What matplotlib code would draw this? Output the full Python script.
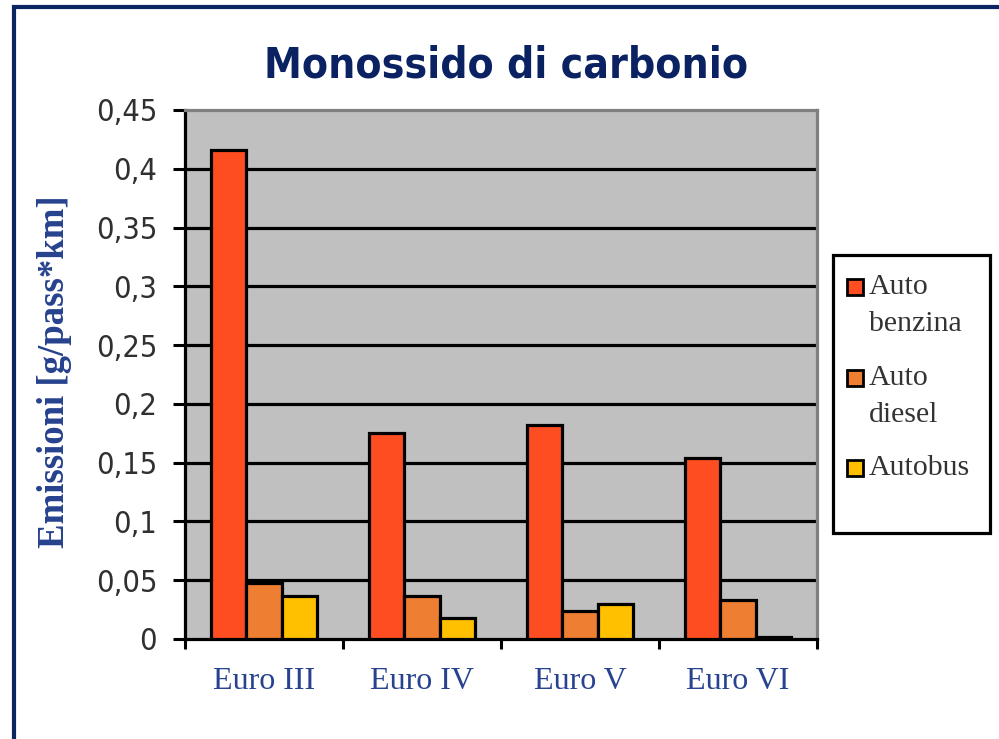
import matplotlib
matplotlib.use("Agg")
import matplotlib.pyplot as plt
from matplotlib.patches import Rectangle
import numpy as np

categories = ["Euro III", "Euro IV", "Euro V", "Euro VI"]
series_labels = ["Auto\nbenzina", "Auto\ndiesel", "Autobus"]
auto_benzina = [0.416, 0.175, 0.182, 0.154]
auto_diesel = [0.048, 0.037, 0.024, 0.033]
autobus = [0.037, 0.018, 0.030, 0.002]
yticks = [0, 0.05, 0.1, 0.15, 0.2, 0.25, 0.3, 0.35, 0.4, 0.45]
ytick_labels = ["0", "0,05", "0,1", "0,15", "0,2", "0,25", "0,3", "0,35", "0,4", "0,45"]
title = "Monossido di carbonio"
ylabel = "Emissioni [g/pass*km]"

colors = ["#FF4D22", "#EE7E32", "#FFC000"]
navy = "#0a2262"
label_navy = "#27428e"

W, H = 999, 739
fig = plt.figure(figsize=(W / 100, H / 100), dpi=100)
fig.patch.set_facecolor("white")

# outer frame
frame = Rectangle((14 / W, -0.05), 1.2, 1 - 7 / H + 0.05, transform=fig.transFigure,
                  fill=False, edgecolor="#0b2462", linewidth=3.0, zorder=0)
fig.patches.append(frame)

left, right, top, bottom = 185, 817, 110, 639
ax = fig.add_axes([left / W, 1 - bottom / H, (right - left) / W, (bottom - top) / H])
ax.set_facecolor("#c0c0c0")

x = np.arange(len(categories))
bw = 1 / 4.5
series = [auto_benzina, auto_diesel, autobus]
for i, (vals, c) in enumerate(zip(series, colors)):
    ax.bar(x + (i - 1) * bw, vals, width=bw, color=c, edgecolor="black",
           linewidth=2.3, zorder=3)

ax.set_xlim(-0.5, len(categories) - 0.5)
ax.set_ylim(0, 0.45)
ax.set_yticks(yticks)
ax.set_yticklabels(ytick_labels, fontfamily="DejaVu Sans", fontstretch="condensed",
                   fontsize=22, color="#303030")
for yv in yticks[1:-1]:
    ax.axhline(yv, color="black", linewidth=2.3, zorder=1)

ax.set_xticks(x)
ax.set_xticklabels(categories, fontfamily="Liberation Serif", fontsize=23,
                   color=label_navy)
ax.set_xticks(np.arange(-0.5, len(categories)), minor=True)
ax.tick_params(axis="x", which="major", length=0, pad=20)
ax.tick_params(axis="x", which="minor", length=7, width=2.2, color="black", direction="out")
ax.tick_params(axis="y", which="major", length=9, width=2.2, color="black", pad=11)

for s in ["left", "bottom"]:
    ax.spines[s].set_color("black")
    ax.spines[s].set_linewidth(2.3)
for s in ["top", "right"]:
    ax.spines[s].set_color("#808080")
    ax.spines[s].set_linewidth(2.3)

fig.text(506 / W, 1 - 66 / H, title, ha="center", va="center",
         fontfamily="DejaVu Sans", fontstretch="condensed", fontweight="bold",
         fontsize=30.5, color=navy)

fig.text(55 / W, 1 - 372 / H, ylabel, ha="center", va="center", rotation=90,
         fontfamily="Liberation Serif", fontweight="bold", fontsize=26.5, color=label_navy)

# legend
lg = Rectangle((833 / W, 1 - 533 / H), (990 - 833) / W, (533 - 255) / H,
               transform=fig.transFigure, facecolor="white", edgecolor="black",
               linewidth=2.3, zorder=5)
fig.patches.append(lg)
ys = [287, 378, 468]
for lab, c, yy in zip(series_labels, colors, ys):
    sw = Rectangle((847 / W, 1 - (yy + 8) / H), 16 / W, 16 / H, transform=fig.transFigure,
                   facecolor=c, edgecolor="black", linewidth=2.0, zorder=6)
    fig.patches.append(sw)
    fig.text(869 / W, 1 - (yy - 13) / H, lab, ha="left", va="top",
             fontfamily="Liberation Serif", fontsize=21.5, color="#333333",
             linespacing=1.55, zorder=7)

fig.savefig("out.png", dpi=100)
